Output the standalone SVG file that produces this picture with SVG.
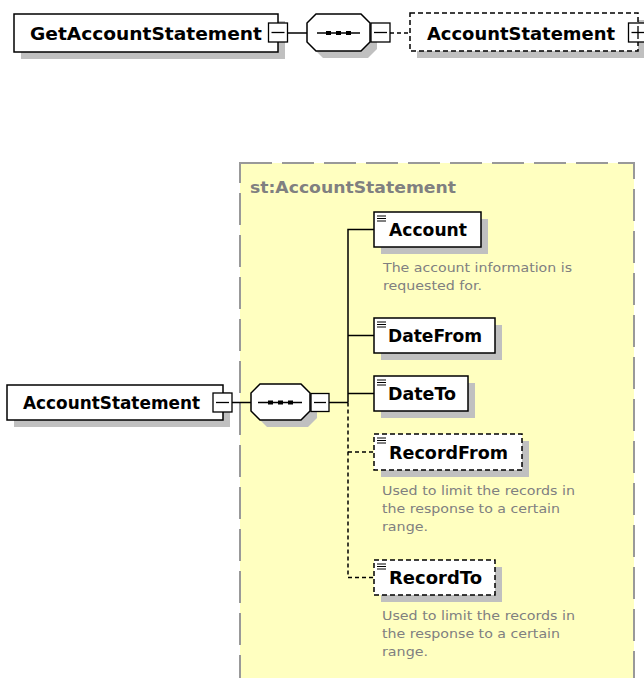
<svg xmlns="http://www.w3.org/2000/svg" width="644" height="678" viewBox="0 0 644 678">
  <defs>
    <style>
      .box{fill:#fff;stroke:#000;stroke-width:1.5}
      .dbox{fill:#fff;stroke:#000;stroke-width:1.5;stroke-dasharray:5 3}
      .shadow{fill:#c0c0c0}
      .lbl{font-family:"DejaVu Sans",Verdana,sans-serif;font-weight:bold;fill:#000}
      .title{font-family:"DejaVu Sans",Verdana,sans-serif;font-weight:bold;font-size:16.5px;fill:#808080}
      .doc{font-family:"DejaVu Sans",Verdana,sans-serif;font-size:13px;fill:#808080}
      .wire{stroke:#000;stroke-width:1.5;fill:none}
      .dwire{stroke:#000;stroke-width:1.5;fill:none;stroke-dasharray:4 3}
      .btn{fill:#fff;stroke:#000;stroke-width:1.3}
      .glyph{stroke:#000;stroke-width:1.3;fill:none}
      .icon{stroke:#000;stroke-width:1;fill:none}
      .dot{fill:#000}
    </style>
  </defs>

  <!-- complex type container -->
  <g id="type-AccountStatement">
    <rect x="240" y="163" width="394" height="540" fill="#ffffc0" stroke="#999" stroke-width="2" stroke-dasharray="32 10"/>
    <text class="title" x="250" y="193" textLength="206" lengthAdjust="spacingAndGlyphs">st:AccountStatement</text>
  </g>

  <!-- connectors -->
  <g id="connectors">
    <line class="wire" x1="287" y1="33" x2="307" y2="33"/>
    <line class="dwire" x1="390" y1="33" x2="410" y2="33"/>
    <line class="wire" x1="232" y1="402.5" x2="251" y2="402.5"/>
    <line class="wire" x1="329" y1="402.5" x2="348" y2="402.5"/>
    <polyline class="wire" points="374,229.5 348,229.5 348,402.5"/>
    <line class="wire" x1="348" y1="335.5" x2="374" y2="335.5"/>
    <line class="wire" x1="348" y1="393.5" x2="374" y2="393.5"/>
    <polyline class="dwire" points="348,402.5 348,577.5 374,577.5"/>
    <line class="dwire" x1="348" y1="452" x2="374" y2="452"/>
  </g>

  <!-- top row -->
  <g id="GetAccountStatement">
    <rect class="shadow" x="21" y="21" width="264" height="38"/>
    <rect class="box" x="14" y="14" width="264" height="38"/>
    <text class="lbl" x="30" y="40" font-size="18" textLength="232" lengthAdjust="spacingAndGlyphs">GetAccountStatement</text>
    <rect class="btn" x="268.5" y="23" width="19" height="19"/>
    <line class="glyph" x1="271.5" y1="32.5" x2="284.5" y2="32.5"/>
  </g>

  <g id="seq-top">
    <polygon class="shadow" points="323,21 368,21 377,30 377,49 368,58 323,58 314,49 314,30"/>
    <polygon class="box" points="316,14 361,14 370,23 370,42 361,51 316,51 307,42 307,23"/>
    <line class="glyph" x1="317" y1="33" x2="360" y2="33"/>
    <rect class="dot" x="326" y="31" width="5" height="4"/>
    <rect class="dot" x="336" y="31" width="5" height="4"/>
    <rect class="dot" x="346" y="31" width="5" height="4"/>
    <rect class="btn" x="371" y="23" width="19" height="19"/>
    <line class="glyph" x1="374" y1="32.5" x2="387" y2="32.5"/>
  </g>

  <g id="AccountStatement-ref">
    <rect class="shadow" x="417" y="20" width="228" height="38"/>
    <rect class="dbox" x="410" y="13" width="228" height="38"/>
    <text class="lbl" x="427" y="40" font-size="18" textLength="188" lengthAdjust="spacingAndGlyphs">AccountStatement</text>
    <rect class="btn" x="628.5" y="23" width="19" height="19"/>
    <line class="glyph" x1="631.5" y1="32.5" x2="644" y2="32.5"/>
    <line class="glyph" x1="638" y1="26" x2="638" y2="39"/>
  </g>

  <!-- lower diagram -->
  <g id="AccountStatement">
    <rect class="shadow" x="14" y="392" width="216" height="35"/>
    <rect class="box" x="7" y="385" width="216" height="35"/>
    <text class="lbl" x="23" y="409" font-size="17" textLength="177" lengthAdjust="spacingAndGlyphs">AccountStatement</text>
    <rect class="btn" x="213" y="393" width="19" height="19"/>
    <line class="glyph" x1="216" y1="402.5" x2="229" y2="402.5"/>
  </g>

  <g id="seq-AccountStatement">
    <polygon class="shadow" points="267,391 308,391 317,400 317,418 308,427 267,427 258,418 258,400"/>
    <polygon class="box" points="260,384 301,384 310,393 310,411 301,420 260,420 251,411 251,393"/>
    <line class="glyph" x1="258" y1="402.5" x2="302" y2="402.5"/>
    <rect class="dot" x="268" y="400.5" width="5" height="4"/>
    <rect class="dot" x="278" y="400.5" width="5" height="4"/>
    <rect class="dot" x="288" y="400.5" width="5" height="4"/>
    <rect class="btn" x="311" y="393.5" width="18" height="18"/>
    <line class="glyph" x1="314" y1="402.5" x2="326" y2="402.5"/>
  </g>

  <g id="Account">
    <rect class="shadow" x="381" y="219" width="107" height="35"/>
    <rect class="box" x="374" y="212" width="107" height="35"/>
    <path class="icon" d="M377,216H386M377,218.5H386M377,221H386"/>
    <text class="lbl" x="389" y="236" font-size="17" textLength="78" lengthAdjust="spacingAndGlyphs">Account</text>
    <text class="doc" x="383" y="272" textLength="189" lengthAdjust="spacingAndGlyphs">The account information is</text>
    <text class="doc" x="383" y="290" textLength="99" lengthAdjust="spacingAndGlyphs">requested for.</text>
  </g>

  <g id="DateFrom">
    <rect class="shadow" x="381" y="325" width="121" height="35"/>
    <rect class="box" x="374" y="318" width="121" height="35"/>
    <path class="icon" d="M377,322H386M377,324.5H386M377,327H386"/>
    <text class="lbl" x="388" y="342" font-size="17" textLength="94" lengthAdjust="spacingAndGlyphs">DateFrom</text>
  </g>

  <g id="DateTo">
    <rect class="shadow" x="381" y="383" width="94" height="35"/>
    <rect class="box" x="374" y="376" width="94" height="35"/>
    <path class="icon" d="M377,380H386M377,382.5H386M377,385H386"/>
    <text class="lbl" x="388" y="400" font-size="17" textLength="68" lengthAdjust="spacingAndGlyphs">DateTo</text>
  </g>

  <g id="RecordFrom">
    <rect class="shadow" x="381" y="441" width="148" height="36"/>
    <rect class="dbox" x="374" y="434" width="148" height="36"/>
    <path class="icon" d="M377,438H386M377,440.5H386M377,443H386"/>
    <text class="lbl" x="389" y="459" font-size="17" textLength="119" lengthAdjust="spacingAndGlyphs">RecordFrom</text>
    <text class="doc" x="382" y="495" textLength="193" lengthAdjust="spacingAndGlyphs">Used to limit the records in</text>
    <text class="doc" x="382" y="513" textLength="178" lengthAdjust="spacingAndGlyphs">the response to a certain</text>
    <text class="doc" x="382" y="531" textLength="46" lengthAdjust="spacingAndGlyphs">range.</text>
  </g>

  <g id="RecordTo">
    <rect class="shadow" x="381" y="567" width="121" height="35"/>
    <rect class="dbox" x="374" y="560" width="121" height="35"/>
    <path class="icon" d="M377,564H386M377,566.5H386M377,569H386"/>
    <text class="lbl" x="389" y="584" font-size="17" textLength="93" lengthAdjust="spacingAndGlyphs">RecordTo</text>
    <text class="doc" x="382" y="620" textLength="193" lengthAdjust="spacingAndGlyphs">Used to limit the records in</text>
    <text class="doc" x="382" y="638" textLength="178" lengthAdjust="spacingAndGlyphs">the response to a certain</text>
    <text class="doc" x="382" y="656" textLength="46" lengthAdjust="spacingAndGlyphs">range.</text>
  </g>
</svg>
